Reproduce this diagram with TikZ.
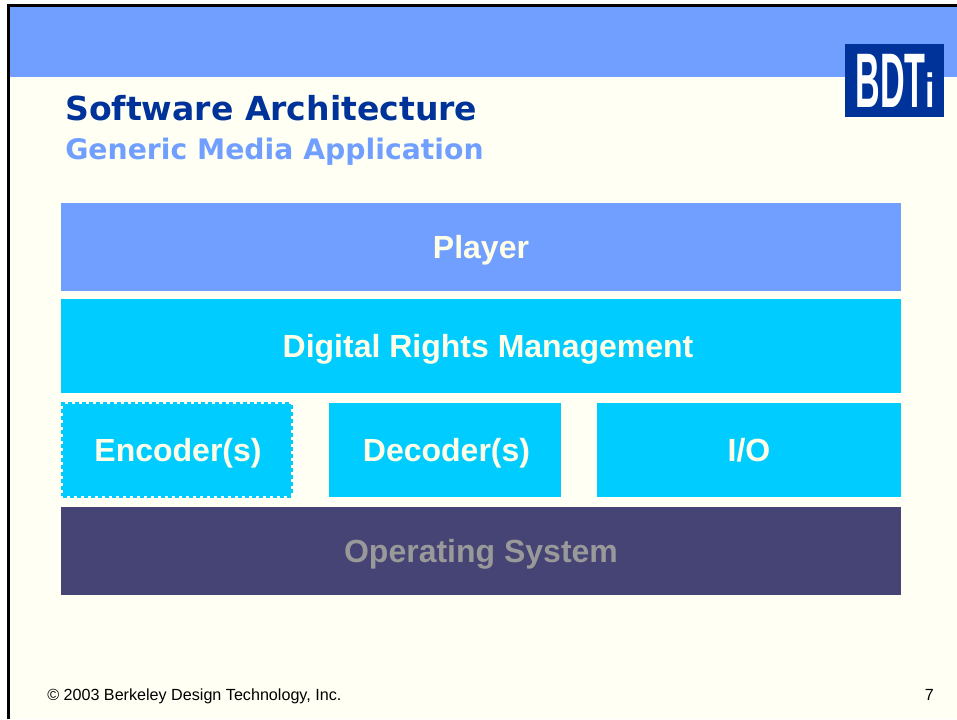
\documentclass[tikz,border=0pt]{standalone}
\usepackage{fontspec}
\setmainfont{Liberation Sans}
\newfontfamily\titlefont{DejaVu Sans}
\definecolor{slidebg}{HTML}{FFFFF3}
\definecolor{bandblue}{HTML}{709FFF}
\definecolor{layercyan}{HTML}{00CCFF}
\definecolor{osblue}{HTML}{464375}
\definecolor{navy}{HTML}{003399}
\definecolor{labelcream}{HTML}{FFFFE8}
\tikzset{
	layer/.style={inner sep=0pt, outer sep=0pt, text height=18pt, text depth=0.5pt, font=\fontsize{24}{28}\selectfont\bfseries, text=labelcream},
}

\begin{document}
\begin{tikzpicture}[x=0.75pt,y=-0.75pt]
		\useasboundingbox (0,0) rectangle (957,719);
		\fill[white] (0,0) rectangle (957,719);
		\fill[slidebg] (8,5) rectangle (957,719);
		\fill[bandblue] (8,5) rectangle (957,77);
		\draw[line width=2.25pt] (8,719)--(8,5)--(957,5);
		
		\node[inner sep=0pt, anchor=base west, text=navy, font=\titlefont\fontsize{24.8}{30}\selectfont\bfseries] (title) at (65,120) {Software Architecture};
		\node[inner sep=0pt, anchor=base west, text=bandblue, font=\titlefont\fontsize{21.2}{26}\selectfont\bfseries] (subtitle) at (65,159) {Generic Media Application};
		
		% logo
		\fill[navy] (845,44) rectangle (944,117);
		\node[inner sep=0pt, anchor=base, text=white, font=\fontsize{20}{24}\selectfont\bfseries] (logo) at (895.5,107) {\scalebox{1.28}[2.9]{BDT\scalebox{1}[0.62]{i}}};
		
		% layers
		\node[layer, fill=bandblue, minimum width=630pt, minimum height=66pt] (player) at (481,247) {Player};
		\node[layer, fill=layercyan, minimum width=630pt, minimum height=70.5pt] (drm) at (481,346) {\hspace{10.5pt}Digital Rights Management};
		\node[layer, fill=layercyan, minimum width=171pt, minimum height=69pt, draw=layercyan, line width=3pt, dash pattern=on 3pt off 2.25pt] (encoder) at (177,450) {\hspace{1.5pt}Encoder(s)};
		\node[layer, fill=layercyan, minimum width=174pt, minimum height=70.5pt] (decoder) at (445,450) {\hspace{2.25pt}Decoder(s)};
		\node[layer, fill=layercyan, minimum width=228pt, minimum height=70.5pt] (io) at (749,450) {I/O};
		\node[layer, fill=osblue, text=black!40, minimum width=630pt, minimum height=66pt] (os) at (481,551) {Operating System};
		
		\node[inner sep=0pt, anchor=base west, font=\fontsize{12.1}{14}\selectfont] (copyright) at (47,700) {© 2003 Berkeley Design Technology, Inc.};
		\node[inner sep=0pt, anchor=base east, font=\fontsize{12.1}{14}\selectfont] (pagenum) at (934,700) {7};
	\end{tikzpicture}
\end{document}
